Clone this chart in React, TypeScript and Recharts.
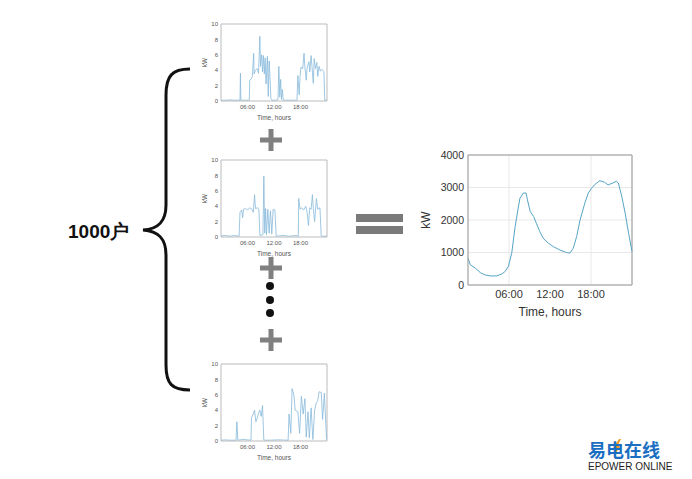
import React from 'react';
import { LineChart, Line, XAxis, YAxis, CartesianGrid, ReferenceLine } from 'recharts';

// [hour, kW] readings for three sample households
const house1: [number, number][] = [
  [0, 0.1], [1, 0.1], [2, 0.15], [3, 0.1], [4.3, 0.1], [4.4, 3.6], [4.5, 0.1], [6.4, 0.1], [6.5, 2.7],
  [6.9, 2.9], [7.1, 3.2], [7.4, 6.2], [7.5, 3.5], [7.8, 4], [8.2, 4.2], [8.5, 3.6], [8.8, 8.4], [8.95, 4.5],
  [9.2, 6], [9.4, 3.8], [9.6, 5.9], [9.8, 3.5], [10, 5.6], [10.2, 2.2], [10.5, 5.8], [10.7, 0.6], [10.9, 5.2],
  [11.1, 3], [11.3, 0.3], [11.6, 0.1], [12.5, 0.1], [12.9, 0.2], [13.1, 4.5], [13.3, 0.5], [13.5, 2.8],
  [13.7, 0.2], [13.9, 1.5], [14.1, 0.1], [17.2, 0.1], [17.4, 3.3], [17.7, 0.8], [17.9, 3.2], [18.1, 4.4],
  [18.5, 4.2], [18.8, 6.2], [19, 4.4], [19.3, 2.7], [19.5, 4.3], [19.9, 5.1], [20.1, 3.8], [20.4, 5.9],
  [20.6, 4.5], [20.9, 2.3], [21.1, 5.5], [21.4, 4.2], [21.7, 5], [21.9, 3.2], [22.2, 4.5], [22.5, 3.9],
  [22.9, 4.1], [23.3, 3.8], [23.5, 0.1], [24, 0.1],
];

const house2: [number, number][] = [
  [0, 0.15], [1, 0.2], [2, 0.1], [3, 0.2], [4.1, 0.1], [4.3, 3.2], [4.7, 3.5], [4.9, 2.5], [5.1, 3.6],
  [5.6, 3.7], [6, 3.5], [6.5, 3.8], [7, 3.6], [7.3, 3.2], [7.6, 5.5], [7.8, 3.7], [8.3, 3.8], [8.6, 3.5],
  [8.8, 0.2], [9.5, 0.3], [9.7, 7.9], [9.9, 0.5], [10.1, 3.7], [10.3, 0.3], [10.6, 3.6], [10.9, 0.5],
  [11.2, 3.4], [11.5, 0.4], [11.8, 3.6], [12.2, 3.5], [12.5, 0.1], [14, 0.2], [15.5, 0.1], [17, 0.2],
  [17.5, 0.1], [17.6, 5], [17.9, 3.6], [18.3, 3.8], [18.7, 3.5], [19.2, 4], [19.5, 3.2], [19.8, 1.5],
  [20.1, 3.8], [20.4, 3.6], [20.7, 5.5], [20.9, 3.7], [21.2, 2], [21.6, 5], [21.9, 3.6], [22.4, 3.8],
  [22.7, 0.1], [24, 0.1],
];

const house3: [number, number][] = [
  [0, 0.1], [1, 0.15], [2, 0.1], [3.4, 0.1], [3.6, 2.5], [3.8, 0.1], [5, 0.2], [6.8, 0.1], [6.9, 3],
  [7.3, 3.5], [7.6, 4], [7.9, 2.5], [8.2, 3], [8.5, 3.6], [8.8, 4], [9.1, 3.2], [9.4, 4.6], [9.7, 0.1],
  [11, 0.1], [13, 0.15], [15.2, 0.1], [15.4, 3.5], [15.8, 1], [16.1, 6.8], [16.5, 6], [16.8, 4], [17.4, 3.8],
  [17.8, 1], [18.2, 5.8], [18.6, 3.5], [19, 5.5], [19.3, 0.5], [19.7, 3.8], [20, 0.4], [20.4, 4.3],
  [20.8, 0.2], [21.2, 4], [21.6, 5], [21.9, 5.2], [22.2, 6.4], [22.7, 6.3], [23, 2.8], [23.4, 6.2], [23.9, 0.2],
];

// aggregated load of 1000 households
const totalHours = [
  0, 0.35, 1.1, 1.8, 2.5, 3.25, 4.2, 4.95, 5.4, 5.9, 6.4, 6.9, 7.3, 7.6, 8.1, 8.5, 8.7, 9.1, 9.6, 10,
  10.5, 11, 11.75, 12.5, 13.4, 14.4, 14.9, 15.4, 15.9, 16.4, 17.1, 17.6, 18.1, 18.5, 19.3, 20, 20.5,
  21.1, 21.7, 22, 22.5, 23, 23.5, 24,
];
const totalKw = [
  820, 620, 515, 380, 310, 280, 280, 340, 410, 565, 980, 1800, 2310, 2670, 2830, 2830, 2620, 2260, 2110,
  1900, 1650, 1440, 1290, 1180, 1080, 1000, 980, 1130, 1490, 2000, 2520, 2830, 2980, 3080, 3210, 3160,
  3080, 3130, 3190, 3140, 2730, 2210, 1590, 1030,
];

const smallYTicks = [0, 2, 4, 6, 8, 10];
const bigYTicks = [0, 1000, 2000, 3000, 4000];
const hourTicks = [6, 12, 18];

const fmtHour = (h: number) => `${String(h).padStart(2, '0')}:00`;
const FONT = '"Liberation Sans", Arial, sans-serif';

const SmallChart: React.FC<{ data: [number, number][]; top: number }> = ({ data, top }) => {
  const rows = data.map(([h, kw]) => ({ h, kw }));
  return (
    <div style={{ position: 'absolute', left: 190, top }}>
      <LineChart width={145} height={107} data={rows} margin={{ top: 10, right: 8, left: 0, bottom: 0 }}>
        <XAxis
          dataKey="h" type="number" domain={[0, 24]} ticks={hourTicks} tickFormatter={fmtHour}
          tickLine={false} tickSize={0} tickMargin={4} height={20} stroke="#bbb"
          tick={{ fill: '#555', fontSize: 6, fontFamily: FONT }}
          label={{ value: 'Time, hours', position: 'insideBottom', offset: 1, fill: '#555', fontSize: 6.5, fontFamily: FONT }}
        />
        <YAxis
          type="number" domain={[0, 10]} ticks={smallYTicks} tickLine={false} tickSize={0} tickMargin={3} width={31}
          stroke="#bbb" tick={{ fill: '#555', fontSize: 6, fontFamily: FONT }}
          label={{ value: 'kW', angle: -90, position: 'insideLeft', offset: 15, fill: '#555', fontSize: 6.5, fontFamily: FONT, style: { textAnchor: 'middle' } }}
        />
        <ReferenceLine y={10} stroke="#bbb" />
        <ReferenceLine x={24} stroke="#bbb" />
        <Line dataKey="kw" type="linear" stroke="#86b9da" strokeWidth={0.8} dot={false} isAnimationActive={false} />
      </LineChart>
    </div>
  );
};

const Plus: React.FC<{ cx: number; cy: number }> = ({ cx, cy }) => (
  <g fill="#808080">
    <rect x={cx - 11} y={cy - 2.5} width={22} height={5} />
    <rect x={cx - 2.5} y={cy - 11} width={5} height={22} />
  </g>
);

export default function App() {
  const totalRows = totalHours.map((h, i) => ({ h, kw: totalKw[i] }));
  return (
    <div style={{ position: 'absolute', left: 0, top: 0, width: 692, height: 479, background: '#fff', fontFamily: FONT, overflow: 'hidden' }}>
      <svg width={692} height={479} style={{ position: 'absolute', left: 0, top: 0 }}>
        <path
          d="M190 69 C172 69 166 76 166 95 L166 205 C166 222 158 229 143 230 C158 231 166 238 166 255 L166 365 C166 384 172 390 190 390"
          fill="none" stroke="#111" strokeWidth={3}
        />
        <Plus cx={271} cy={140} />
        <Plus cx={271} cy={268} />
        <Plus cx={271} cy={340} />
        <circle cx={270} cy={286} r={4} fill="#111" />
        <circle cx={270} cy={300} r={4} fill="#111" />
        <circle cx={270} cy={313} r={4} fill="#111" />
        <rect x={356} y={214} width={47} height={8} fill="#7a7a7a" />
        <rect x={356} y={226} width={47} height={8} fill="#7a7a7a" />
        <path d="M619 439 L613 448 L617 448 L614 455 L622 445 L618 445 L621 439 Z" fill="#f39a1e" />
      </svg>

      <div style={{ position: 'absolute', left: 68, top: 219, fontSize: 19, fontWeight: 700, color: '#111' }}>
        1000户
      </div>

      <SmallChart data={house1} top={14} />
      <SmallChart data={house2} top={150} />
      <SmallChart data={house3} top={354} />

      <div style={{ position: 'absolute', left: 420, top: 147 }}>
        <LineChart width={220} height={175} data={totalRows} margin={{ top: 8, right: 8, left: 0, bottom: 0 }}>
          <CartesianGrid stroke="#e8e8e8" />
          <XAxis
            dataKey="h" type="number" domain={[0, 24]} ticks={hourTicks} tickFormatter={fmtHour}
            tickLine={false} tickSize={0} tickMargin={5} height={37} stroke="#999"
            tick={{ fill: '#333', fontSize: 11, fontFamily: FONT }}
            label={{ value: 'Time, hours', position: 'insideBottom', offset: 6, fill: '#333', fontSize: 12, fontFamily: FONT }}
          />
          <YAxis
            type="number" domain={[0, 4000]} ticks={bigYTicks} tickLine={false} tickSize={0} tickMargin={4} width={48}
            stroke="#999" tick={{ fill: '#333', fontSize: 10.5, fontFamily: FONT }}
            label={{ value: 'kW', angle: -90, position: 'insideLeft', offset: 6, fill: '#333', fontSize: 12, fontFamily: FONT, style: { textAnchor: 'middle' } }}
          />
          <ReferenceLine y={4000} stroke="#999" />
          <ReferenceLine x={24} stroke="#999" />
          <Line dataKey="kw" type="linear" stroke="#55a5c6" strokeWidth={1} dot={false} isAnimationActive={false} />
        </LineChart>
      </div>

      <div style={{ position: 'absolute', left: 588, top: 440, fontFamily: '"Noto Sans CJK SC", sans-serif', fontSize: 18, fontWeight: 700, color: '#1b6fc2', lineHeight: '19px' }}>
        易电在线
      </div>
      <div style={{ position: 'absolute', left: 588, top: 461, fontSize: 10, color: '#222', lineHeight: '11px' }}>
        EPOWER ONLINE
      </div>
    </div>
  );
}
